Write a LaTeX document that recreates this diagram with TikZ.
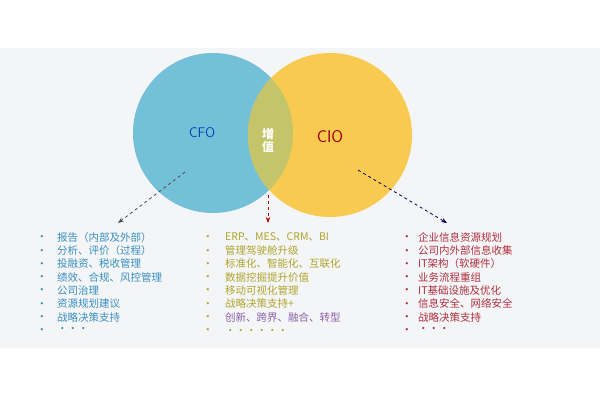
\documentclass[tikz,border=0pt]{standalone}
\usepackage{fontspec}
\newfontfamily\cjk{Noto Sans CJK SC}
\usetikzlibrary{arrows.meta}
\definecolor{bgc}{HTML}{F3F5F7}
\definecolor{cfoc}{HTML}{74C0D8}
\definecolor{cioc}{HTML}{F8CB50}
\definecolor{ovc}{HTML}{C4C46A}
\definecolor{lblue}{HTML}{3A8FC0}
\definecolor{lolive}{HTML}{B0A52E}
\definecolor{lpurple}{HTML}{8A60A8}
\definecolor{lred}{HTML}{B03040}
\begin{document}
\begin{tikzpicture}[x=1pt,y=-1pt,
  itm/.style={anchor=west,font=\cjk\fontsize{10.5}{11}\selectfont,inner sep=0pt},
  bul/.style={anchor=center,font=\fontsize{8}{8}\selectfont,inner sep=0pt},
  darr/.style={dashed,thick,-{Stealth[length=6pt]}}]
\useasboundingbox (0,0) rectangle (600,400);
\fill[white] (0,0) rectangle (600,400);
\fill[bgc] (0,48) rectangle (600,348);
\fill[cfoc] (213,133) circle (80);
\fill[cioc] (330,135) circle (82);
\begin{scope}
\clip (213,133) circle (80);
\fill[ovc] (330,135) circle (82);
\end{scope}
\node[font=\fontsize{14}{14}\selectfont\sffamily,text=blue!60!cyan!70!black] (cfo) at (202,133) {CFO};
\node[font=\fontsize{17}{17}\selectfont\sffamily,text=red!60!black] (cio) at (330,137) {CIO};
\node[font=\cjk\bfseries\fontsize{12}{13}\selectfont,text=white,align=center] (zz) at (268,140) {增\\值};
\coordinate (a1) at (185,172); \coordinate (b1) at (118,223);
\coordinate (a2) at (268,195); \coordinate (b2) at (268,223);
\coordinate (a3) at (358,170); \coordinate (b3) at (447,223);
\draw[darr,black!70] (a1) -- (b1);
\draw[darr,red!70!black] (a2) -- (b2);
\draw[darr,black!60!blue] (a3) -- (b3);
\foreach \t [count=\i] in {报告（内部及外部）,分析、评价（过程）,投融资、税收管理,绩效、合规、风控管理,公司治理,资源规划建议,战略决策支持,・・・}
  {\node[bul,text=lblue] (lb\i) at (42,224+13.3*\i) {•};
   \node[itm,text=lblue] (lt\i) at (57,224+13.3*\i) {\t};}
\foreach \t [count=\i] in {ERP、MES、CRM、BI,管理驾驶舱升级,标准化、智能化、互联化,数据挖掘提升价值,移动可视化管理,战略决策支持+}
  {\node[bul,text=lolive] (mb\i) at (208,224+13.3*\i) {•};
   \node[itm,text=lolive] (mt\i) at (225,224+13.3*\i) {\t};}
\node[bul,text=lolive] (mb7) at (208,317.1) {•};
\node[itm,text=lpurple] (mt7) at (225,317.1) {创新、跨界、融合、转型};
\node[bul,text=lolive] (mb8) at (208,330.4) {•};
\node[itm,text=lolive] (mt8) at (225,332) {・・・・・・};
\foreach \t [count=\i] in {企业信息资源规划,公司内外部信息收集,IT架构（软硬件）,业务流程重组,IT基础设施及优化,信息安全、网络安全,战略决策支持,・・・}
  {\node[bul,text=lred] (rb\i) at (407,224+13.3*\i) {•};
   \node[itm,text=lred] (rt\i) at (418,224+13.3*\i) {\t};}
\end{tikzpicture}
\end{document}
